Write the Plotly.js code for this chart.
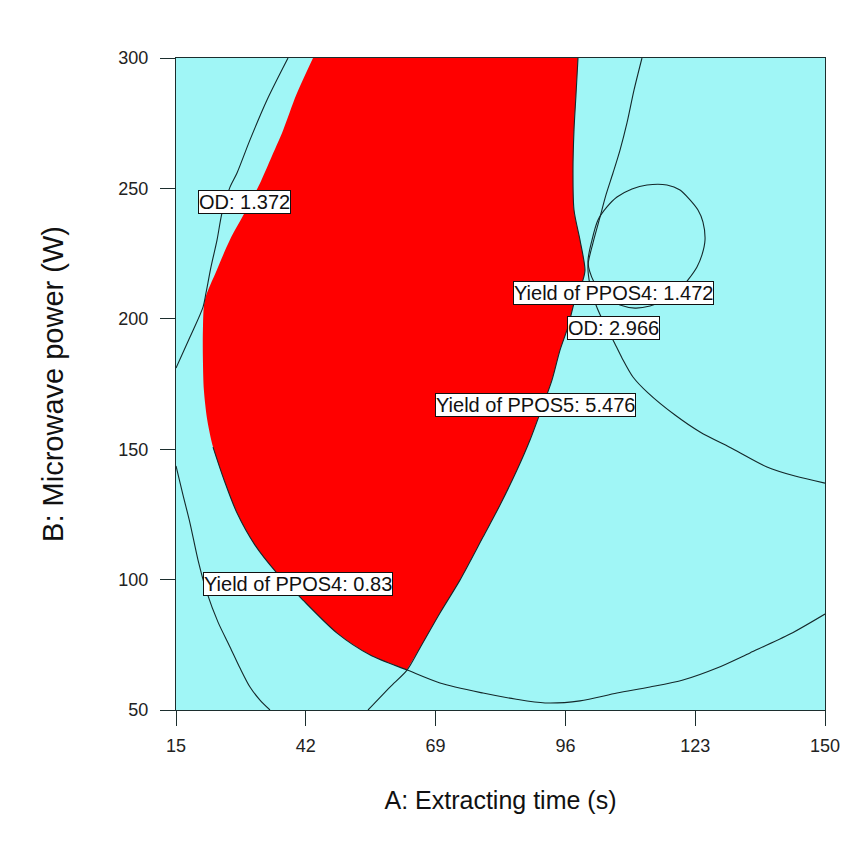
<!DOCTYPE html>
<html>
<head>
<meta charset="utf-8">
<script src="https://cdn.plot.ly/plotly-3.0.1.min.js"></script>
<style>
  html, body { margin: 0; padding: 0; background: #ffffff; }
  #chart { width: 845px; height: 854px; }
</style>
</head>
<body>
<div id="chart"></div>
<script>
// Overlay plot: extracting time (A) vs microwave power (B)

const xTicks = [15, 42, 69, 96, 123, 150];
const yTicks = [50, 100, 150, 200, 250, 300];

// Left edge of the sweet-spot region (top down to its lower tip)
const sweetLeftX = [43.5, 40.0, 37.3, 34.6, 32.5, 29.4, 26.2, 23.5, 21.0, 20.6, 20.6, 20.8, 21.5, 22.7, 25.0, 27.7, 31.4, 36.0, 40.8, 48.5, 55.4, 63.1];
const sweetLeftY = [300, 285.8, 272.4, 260.9, 252.1, 241.0, 230.2, 218.7, 207.2, 195.7, 184.2, 172.7, 161.2, 150.8, 138.2, 125.5, 113.3, 102.5, 93.3, 79.5, 71.1, 65.3];

// Yield of PPOS5 contour: right edge of the region, running on to the bottom axis
const ppos5X = [98.62, 98.20, 97.79, 97.58, 97.79, 99.04, 100.08, 99.66, 97.99, 96.54, 94.88, 93.21, 91.34, 88.64, 85.93, 82.40, 78.86, 74.07, 69.91, 65.75, 63.05, 59.51, 54.94];
const ppos5Y = [300, 285.8, 272.4, 257.1, 241.7, 230.2, 218.7, 214.9, 207.2, 196.9, 188.0, 176.5, 166.9, 153.5, 142.0, 128.6, 116.3, 99.8, 87.2, 73.8, 65.3, 58.8, 50];
const ppos5TipIndex = 20; // point shared with the lower tip of the region

// Bowl-shaped contour under the region
const bowlX = [22.7, 25.0, 27.7, 31.4, 36.0, 40.8, 48.5, 55.4, 63.1, 69.91, 78.86, 85.52, 91.76, 99.04, 106.73, 113.60, 120.46, 127.53, 134.40, 142.72, 150];
const bowlY = [150.8, 138.2, 125.5, 113.3, 102.5, 93.3, 79.5, 71.1, 65.3, 60.35, 56.5, 54.2, 52.7, 53.5, 56.5, 58.8, 61.5, 66.1, 71.9, 79.1, 86.8];

// OD 1.372 contour
const od1X = [38.30, 33.93, 30.39, 27.69, 26.23, 24.57, 23.53, 22.28, 21.24, 20.62, 17.91, 15];
const od1Y = [300, 283.9, 268.6, 255.9, 250.5, 240.6, 230.2, 219.9, 209.9, 204.5, 193.0, 181.1];

// Yield of PPOS4 0.83 contour
const ppos4LowX = [15, 16.46, 17.91, 19.58, 21.45, 23.74, 26.23, 28.31, 30.39, 32.47, 34.55];
const ppos4LowY = [143.6, 132.4, 121.7, 107.5, 94.9, 83.7, 74.2, 66.1, 58.8, 53.8, 50];

// Yield of PPOS4 1.472 contour (closed loop)
const ppos4HighX = [100.70, 101.53, 102.78, 104.65, 106.73, 109.85, 112.97, 117.13, 119.84, 121.92, 123.58, 124.62, 125.04, 124.41, 123.37, 121.50, 119.42, 116.72, 113.60, 110.48, 107.36, 104.24, 101.95, 100.70];
const ppos4HighY = [221.8, 230.2, 237.9, 242.9, 246.7, 249.8, 251.3, 251.3, 249.4, 245.6, 241.7, 237.1, 230.2, 224.5, 219.9, 214.9, 210.3, 207.2, 204.9, 204.1, 205.3, 208.4, 214.1, 221.8];

// OD 2.966 contour
const od2X = [111.93, 110.27, 108.81, 107.36, 105.90, 104.44, 103.20, 101.74, 100.70, 101.12, 102.36, 104.03, 105.90, 107.77, 110.06, 113.18, 118.80, 124.00, 130.86, 137.93, 143.76, 150];
const od2Y = [300, 287.7, 275.1, 264.7, 255.9, 247.5, 239.0, 229.1, 220.6, 213.0, 205.3, 198.4, 191.9, 185.0, 177.7, 171.6, 163.1, 156.6, 150.1, 143.2, 139.7, 137.0];

// Contour labels
const labelText = ['OD: 1.372', 'Yield of PPOS4: 1.472', 'OD: 2.966', 'Yield of PPOS5: 5.476', 'Yield of PPOS4: 0.83'];
const labelX = [29.35, 106.1, 106.1, 89.7, 40.4];
const labelY = [244.8, 209.9, 196.5, 166.9, 98.3];

// Region outline: left edge down to the tip, then back up the PPOS5 contour
const rightUp = ppos5X.slice(0, ppos5TipIndex + 1).map((x, i) => [x, ppos5Y[i]]).reverse();
const regionX = sweetLeftX.concat(rightUp.map(p => p[0]));
const regionY = sweetLeftY.concat(rightUp.map(p => p[1]));

const FONT = 'Liberation Sans, Arial, sans-serif';
const lineStyle = { color: '#14282a', width: 1.1, shape: 'spline', smoothing: 0.8 };
function contour(x, y) {
  return { type: 'scatter', mode: 'lines', x: x, y: y, line: lineStyle, hoverinfo: 'skip', showlegend: false };
}

const traces = [
  { type: 'scatter', mode: 'lines', x: regionX, y: regionY, fill: 'toself',
    fillcolor: '#ff0000', line: { width: 0, color: '#ff0000', shape: 'spline', smoothing: 0.8 },
    hoverinfo: 'skip', showlegend: false },
  contour(ppos5X, ppos5Y),
  contour(bowlX, bowlY),
  contour(od1X, od1Y),
  contour(ppos4LowX, ppos4LowY),
  contour(ppos4HighX, ppos4HighY),
  contour(od2X, od2Y)
];

const annotations = labelText.map((t, i) => ({
  x: labelX[i], y: labelY[i], xref: 'x', yref: 'y', text: t, showarrow: false,
  font: { family: FONT, size: 20, color: '#111111' },
  bgcolor: '#ffffff', bordercolor: '#111111', borderwidth: 1, borderpad: 0
}));

const axisCommon = {
  showgrid: false, zeroline: false, showline: true, mirror: true,
  linecolor: '#1c2e2e', linewidth: 1, ticks: 'outside', tickcolor: '#1c2e2e',
  tickwidth: 1, ticklen: 15, automargin: false, fixedrange: true,
  tickfont: { family: FONT, size: 18, color: '#222222' }
};

const layout = {
  width: 845, height: 854,
  margin: { l: 176, r: 20, t: 58, b: 144 },
  paper_bgcolor: '#ffffff',
  plot_bgcolor: '#a0f6f6',
  xaxis: Object.assign({}, axisCommon, {
    range: [15, 150], tickvals: xTicks, ticktext: xTicks.map(String), ticklabelstandoff: 4,
    title: { text: 'A: Extracting time (s)', standoff: 36,
      font: { family: FONT, size: 25, color: '#111111' } }
  }),
  yaxis: Object.assign({}, axisCommon, {
    range: [50, 300], tickvals: yTicks, ticktext: yTicks.map(String), ticklabelstandoff: 8,
    title: { text: 'B: Microwave power (W)', standoff: 46,
      font: { family: FONT, size: 29, color: '#111111' } }
  }),
  annotations: annotations,
  showlegend: false
};

Plotly.newPlot('chart', traces, layout, { displayModeBar: false, staticPlot: true });
</script>
</body>
</html>
